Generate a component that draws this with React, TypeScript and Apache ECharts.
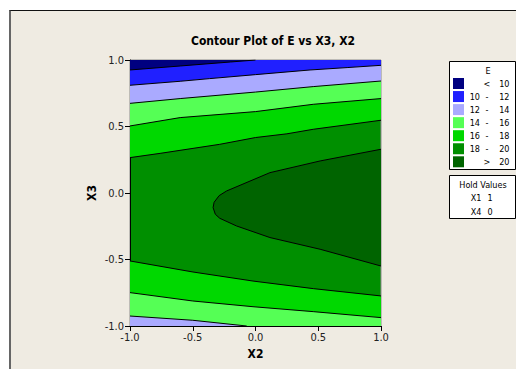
import React, { useEffect, useRef } from "react";
import * as echarts from "echarts";

// ---- data ----
const X_MIN = -1, X_MAX = 1, Y_MIN = -1, Y_MAX = 1;
const TICK_STEP = 0.5;

const legendColors = ["#000080", "#2020FF", "#AAAAFF", "#55FF55", "#00D800", "#008F00", "#006400"];
const legendFrom = ["", "10", "12", "14", "16", "18", ""];
const legendSep = ["<", "-", "-", "-", "-", "-", ">"];
const legendTo = ["10", "12", "14", "16", "18", "20", "20"];
const holdNames = ["X1", "X4"];
const holdValues = ["1", "0"];

// contour lines (X2, X3)
const line10 = [[-1, 0.925], [-0.6, 0.955], [-0.2, 0.985], [0, 1.0]];
const line12 = [[-1, 0.81], [-0.6, 0.84], [-0.365, 0.86], [0, 0.89], [0.435, 0.925], [0.73, 0.943], [1, 0.96]];
const line14 = [[-1, 0.674], [-0.6, 0.71], [0, 0.759], [0.46, 0.8], [1, 0.842]];
const line16 = [[-1, 0.504], [-0.6, 0.567], [0, 0.612], [0.46, 0.667], [1, 0.71]];
const line18Top = [[-1, 0.266], [-0.76, 0.298], [-0.285, 0.366], [0, 0.417], [0.25, 0.445], [0.46, 0.479], [1, 0.547]];
const line20 = [[1, 0.329], [0.515, 0.241], [0.115, 0.153], [-0.231, 0.015], [-0.29, -0.02], [-0.33, -0.07], [-0.338, -0.11], [-0.32, -0.16], [-0.285, -0.19], [-0.151, -0.248], [0.115, -0.335], [0.515, -0.423], [1, -0.549]];
const line18Bot = [[-1, -0.511], [-0.498, -0.594], [-0.02, -0.662], [0.461, -0.719], [1, -0.774]];
const line16Bot = [[-1, -0.749], [-0.5, -0.812], [-0.02, -0.855], [0.46, -0.892], [1, -0.937]];
const line14Bot = [[-1, -0.925], [-0.5, -0.957], [-0.07, -1.0]];

const FONT = '"DejaVu Sans Condensed", "DejaVu Sans", Tahoma, sans-serif';

function above(line: number[][]) {
  const last = line[line.length - 1];
  return [...line, [last[0], Y_MAX], [X_MAX, Y_MAX], [X_MIN, Y_MAX]].filter((p, i, a) => p[0] <= last[0] || i === a.length - 1 || p[1] === Y_MAX);
}
function aboveRegion(line: number[][]) {
  const last = line[line.length - 1];
  const pts = [...line];
  if (last[1] !== Y_MAX) pts.push([last[0], Y_MAX]);
  pts.push([X_MIN, Y_MAX]);
  return pts;
}
function belowRegion(line: number[][]) {
  const last = line[line.length - 1];
  const pts = [...line];
  if (last[1] !== Y_MIN) pts.push([last[0], Y_MIN]);
  pts.push([X_MIN, Y_MIN]);
  return pts;
}

const regions = [
  { pts: aboveRegion(line18Top), color: legendColors[4] },
  { pts: aboveRegion(line16), color: legendColors[3] },
  { pts: aboveRegion(line14), color: legendColors[2] },
  { pts: aboveRegion(line12), color: legendColors[1] },
  { pts: aboveRegion(line10), color: legendColors[0] },
  { pts: belowRegion(line18Bot), color: legendColors[4] },
  { pts: belowRegion(line16Bot), color: legendColors[3] },
  { pts: belowRegion(line14Bot), color: legendColors[2] },
  { pts: line20, color: legendColors[6] },
];
const contourLines = [line10, line12, line14, line16, line18Top, line20, line18Bot, line16Bot, line14Bot];

export default function App() {
  const ref = useRef<HTMLDivElement>(null);
  useEffect(() => {
    if (!ref.current) return;
    const chart = echarts.init(ref.current, undefined, { renderer: "svg" });

    const graphics: any[] = [];
    // legend box
    graphics.push({ type: "rect", shape: { x: 449.5, y: 61.5, width: 66, height: 108 }, style: { fill: "#fff", stroke: "#000", lineWidth: 1 } });
    graphics.push({ type: "text", x: 488, y: 71, style: { text: "E", font: `9px ${FONT}`, fill: "#000", align: "center", verticalAlign: "middle" } });
    legendColors.forEach((c, i) => {
      const cy = 83.5 + i * 13.05;
      graphics.push({ type: "rect", shape: { x: 453, y: cy - 5.5, width: 11, height: 11 }, style: { fill: c } });
      if (legendFrom[i]) graphics.push({ type: "text", x: 480, y: cy, style: { text: legendFrom[i], font: `9px ${FONT}`, fill: "#000", align: "right", verticalAlign: "middle" } });
      graphics.push({ type: "text", x: 487, y: cy, style: { text: legendSep[i], font: `9px ${FONT}`, fill: "#000", align: "center", verticalAlign: "middle" } });
      graphics.push({ type: "text", x: 509.5, y: cy, style: { text: legendTo[i], font: `9px ${FONT}`, fill: "#000", align: "right", verticalAlign: "middle" } });
    });
    // hold values box
    graphics.push({ type: "rect", shape: { x: 449.5, y: 175.5, width: 66, height: 43 }, style: { fill: "#fff", stroke: "#000", lineWidth: 1 } });
    graphics.push({ type: "text", x: 483, y: 185, style: { text: "Hold Values", font: `9px ${FONT}`, fill: "#000", align: "center", verticalAlign: "middle" } });
    holdNames.forEach((n, i) => {
      const cy = 197.5 + i * 14.5;
      graphics.push({ type: "text", x: 476, y: cy, style: { text: n, font: `9px ${FONT}`, fill: "#000", align: "center", verticalAlign: "middle" } });
      graphics.push({ type: "text", x: 490, y: cy, style: { text: holdValues[i], font: `9px ${FONT}`, fill: "#000", align: "center", verticalAlign: "middle" } });
    });

    const axisCommon = {
      type: "value" as const,
      interval: TICK_STEP,
      axisLine: { show: true, onZero: false, lineStyle: { color: "#000", width: 1 } },
      axisTick: { show: true, length: 5, lineStyle: { color: "#000" } },
      axisLabel: { color: "#222", fontSize: 11, fontFamily: FONT, margin: 6, formatter: (v: number) => v.toFixed(1) },
      splitLine: { show: false },
      nameLocation: "middle" as const,
      nameTextStyle: { color: "#000", fontSize: 12, fontWeight: "bold" as const, fontFamily: FONT },
    };

    chart.setOption({
      animation: false,
      backgroundColor: "transparent",
      title: {
        text: "Contour Plot of E vs X3, X2",
        left: 268,
        top: 30,
        textAlign: "center",
        textStyle: { fontSize: 12, fontWeight: "bold", color: "#000", fontFamily: FONT },
      },
      grid: {
        left: 130,
        top: 60,
        width: 251,
        height: 266,
        show: true,
        backgroundColor: legendColors[5],
        borderColor: "#8a8a8a",
        borderWidth: 1,
      },
      xAxis: { ...axisCommon, min: X_MIN, max: X_MAX, name: "X2", nameGap: 21 },
      yAxis: { ...axisCommon, min: Y_MIN, max: Y_MAX, name: "X3", nameGap: 32 },
      graphic: graphics,
      series: [
        {
          type: "custom",
          coordinateSystem: "cartesian2d",
          z: 2,
          clip: true,
          data: regions.map(() => [0, 0]),
          renderItem: (params: any, api: any) => {
            const r = regions[params.dataIndex];
            return {
              type: "polygon",
              z2: params.dataIndex,
              shape: { points: r.pts.map((p) => api.coord(p)) },
              style: { fill: r.color, stroke: "none" },
            };
          },
        },
        ...contourLines.map((ln) => ({
          type: "line",
          z: 3,
          data: ln,
          showSymbol: false,
          symbol: "none",
          lineStyle: { color: "#000", width: 1 },
          silent: true,
        })),
      ],
    });
    return () => chart.dispose();
  }, []);

  return (
    <div style={{ position: "absolute", left: 0, top: 0, width: 516, height: 369, background: "#fff" }}>
      <div
        style={{
          position: "absolute",
          left: 9,
          top: 10,
          width: 507,
          height: 359,
          background: "#EFEBE2",
          borderTop: "1px solid #111",
          borderLeft: "2px solid #666",
          boxSizing: "border-box",
        }}
      />
      <div ref={ref} style={{ position: "absolute", left: 0, top: 0, width: 516, height: 369 }} />
    </div>
  );
}
